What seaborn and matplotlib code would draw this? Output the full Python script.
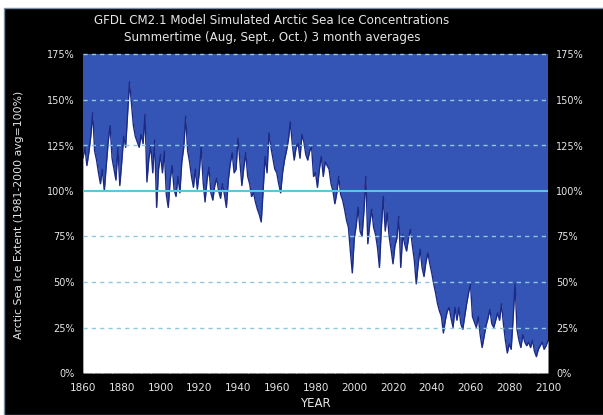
import matplotlib
matplotlib.use("Agg")
import matplotlib.pyplot as plt
import pandas as pd
import seaborn as sns
from matplotlib.patches import Rectangle

# Summer (Aug-Sep-Oct) Arctic sea ice extent, % of the 1981-2000 average
years = list(range(1860, 2101))
extent = [
    118, 124, 114, 121, 130, 143, 122, 117, 110, 104,   # 1860s
    112, 100, 114, 127, 136, 118, 112, 106, 124, 103,   # 1870s
    116, 130, 124, 142, 160, 148, 136, 130, 127, 124,   # 1880s
    131, 126, 142, 105, 118, 125, 110, 128, 91, 112,    # 1890s
    120, 110, 122, 98, 91, 106, 114, 101, 97, 108,      # 1900s
    99, 116, 124, 141, 122, 116, 108, 102, 112, 101,    # 1910s
    110, 124, 105, 94, 106, 113, 99, 95, 103, 107,      # 1920s
    100, 96, 104, 98, 91, 106, 115, 121, 110, 112,      # 1930s
    129, 116, 103, 113, 121, 108, 104, 97, 99, 94,      # 1940s
    90, 87, 83, 101, 119, 110, 132, 124, 118, 112,      # 1950s
    110, 104, 99, 110, 117, 122, 128, 138, 126, 117,    # 1960s
    124, 126, 118, 131, 127, 120, 117, 122, 124, 108,   # 1970s
    110, 102, 112, 119, 108, 116, 114, 112, 104, 100,   # 1980s
    93, 99, 108, 98, 95, 90, 84, 80, 67, 55,            # 1990s
    74, 81, 91, 78, 75, 89, 108, 71, 82, 90,            # 2000s
    80, 76, 69, 58, 80, 97, 78, 88, 75, 68,             # 2010s
    60, 70, 74, 86, 58, 76, 71, 67, 74, 79,             # 2020s
    70, 62, 49, 60, 68, 58, 53, 61, 66, 60,             # 2030s
    55, 49, 44, 38, 34, 31, 22, 29, 34, 36,             # 2040s
    30, 25, 36, 29, 36, 27, 24, 31, 38, 44,             # 2050s
    49, 31, 28, 25, 31, 21, 14, 20, 26, 30,             # 2060s
    35, 27, 25, 29, 33, 29, 38, 27, 18, 11,             # 2070s
    16, 13, 30, 49, 24, 18, 14, 21, 17, 15,             # 2080s
    17, 14, 18, 12, 9, 13, 15, 17, 13, 15,              # 2090s
    18,                                                 # 2100
]

y_ticks = [0, 25, 50, 75, 100, 125, 150, 175]
y_tick_labels = ["0%", "25%", "50%", "75%", "100%", "125%", "150%", "175%"]
x_ticks = [1860, 1880, 1900, 1920, 1940, 1960, 1980, 2000, 2020, 2040, 2060, 2080, 2100]
x_tick_labels = ["1860", "1880", "1900", "1920", "1940", "1960", "1980",
                 "2000", "2020", "2040", "2060", "2080", "2100"]
dashed_levels = [25, 50, 75, 125, 150, 175]
baseline = 100

title_lines = ["GFDL CM2.1 Model Simulated Arctic Sea Ice Concentrations",
               "Summertime (Aug, Sept., Oct.) 3 month averages"]
x_label = "YEAR"
y_label = "Arctic Sea Ice Extent (1981-2000 avg=100%)"

df = pd.DataFrame({"year": years, "extent": extent})

sns.set_style("white")
plt.rcParams["font.family"] = ["DejaVu Sans"]

BLUE = "#3455b6"
NAVY = "#1b2b86"
GRID = "#8fc9de"
CYAN = "#5cc6df"
TEXT = "#e6e6e6"

W, H = 603, 415
fig = plt.figure(figsize=(W / 100, H / 100), dpi=100, facecolor="white")
fig.patches.append(Rectangle((4 / W, 0), 1, 1 - 8 / H, transform=fig.transFigure,
                             facecolor="black", edgecolor="#7d8ea0", lw=1.0, zorder=-5))

left, right, top, bottom = 83, 548, 54.5, 373
ax = fig.add_axes([left / W, 1 - bottom / H, (right - left) / W, (bottom - top) / H])
ax.set_zorder(2)
ax.set_facecolor(BLUE)

# ice-covered share in white, open remainder shows the blue background
ax.fill_between(df["year"], 0, df["extent"], color="white", lw=0, zorder=1)
sns.lineplot(data=df, x="year", y="extent", color=NAVY, lw=1.0, ax=ax, zorder=2)

for lvl in dashed_levels:
    ax.axhline(lvl, color=GRID, ls=(0, (3, 3)), lw=1.0, zorder=3, clip_on=False)
ax.axhline(baseline, color=CYAN, lw=1.5, zorder=3)

ax.set_xlim(1860, 2100)
ax.set_ylim(0, 175)
for s in ax.spines.values():
    s.set_visible(False)

ax.set_yticks(y_ticks)
ax.set_yticklabels(y_tick_labels)
ax.tick_params(axis="y", length=0, labelleft=True, labelright=True,
               colors=TEXT, labelsize=7, pad=6)
ax.set_xticks(x_ticks)
ax.set_xticklabels(x_tick_labels)
ax.set_xticks(range(1860, 2101, 5), minor=True)
ax.tick_params(axis="x", which="major", length=0, pad=7, labelsize=7.5, colors=TEXT)
ax.tick_params(axis="x", which="minor", direction="in", length=3, width=0.8,
               color="#bcbcbc", bottom=True)

ax.set_xlabel(x_label, color=TEXT, fontsize=8.5, labelpad=3)
ax.set_ylabel("")
fig.text(19 / W, 1 - 215 / H, y_label, rotation=90, ha="center", va="center",
         color=TEXT, fontsize=7.8)

fig.text(272 / W, 1 - 21 / H, title_lines[0], ha="center", va="center",
         color=TEXT, fontsize=8.6)
fig.text(272 / W, 1 - 38 / H, title_lines[1], ha="center", va="center",
         color=TEXT, fontsize=8.6)

fig.savefig("out.png", dpi=100, facecolor=fig.get_facecolor())
